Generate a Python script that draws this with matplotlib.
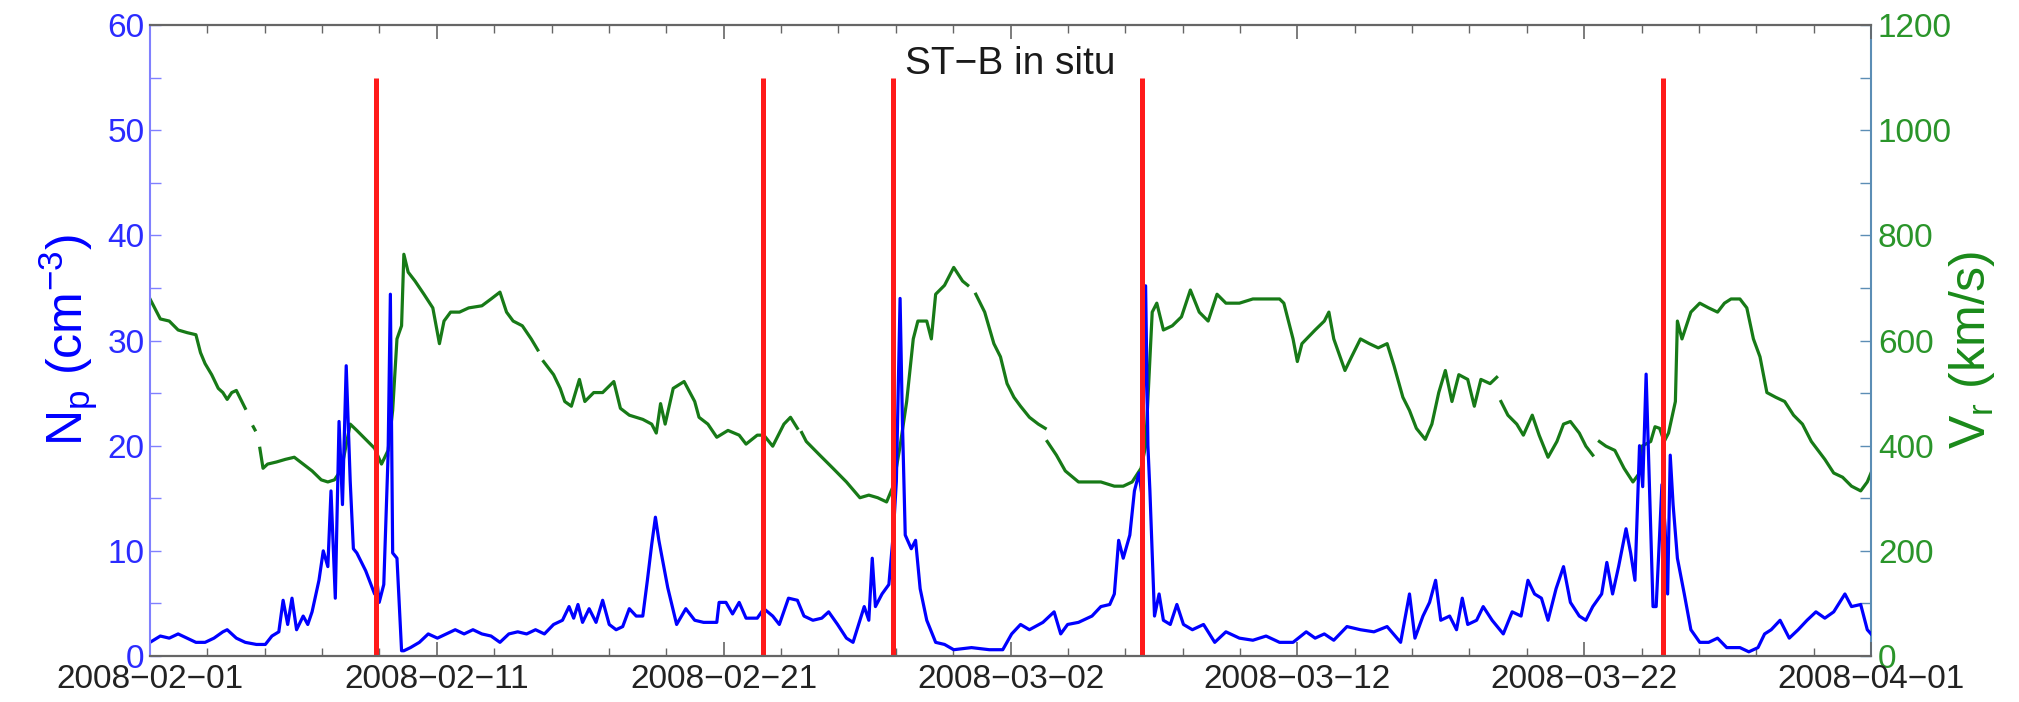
import numpy as np
import matplotlib.pyplot as plt

plt.rcParams['font.family'] = ['Liberation Sans', 'DejaVu Sans']
plt.rcParams['mathtext.fontset'] = 'custom'
plt.rcParams['mathtext.rm'] = 'Liberation Sans'
plt.rcParams['mathtext.it'] = 'Liberation Sans:italic'

start = np.datetime64('2008-02-01T00:00')

# proton density, days since 2008-02-01
np_days = [0.00, 0.36, 0.67, 0.98, 1.29, 1.60, 1.92, 2.23, 2.54, 2.69, 3.01, 3.32, 3.71, 4.02,
           4.25, 4.49, 4.64, 4.80, 4.95, 5.11, 5.34, 5.50, 5.65, 5.89, 6.04, 6.20, 6.31, 6.46,
           6.59, 6.71, 6.84, 6.98, 7.09, 7.21, 7.52, 7.83, 7.91, 7.99, 8.15, 8.30, 8.38, 8.46,
           8.61, 8.77, 8.85, 9.08, 9.39, 9.70, 10.02, 10.33, 10.64, 10.95, 11.26, 11.57, 11.89,
           12.20, 12.51, 12.82, 13.13, 13.44, 13.75, 14.07, 14.38, 14.61, 14.77, 14.92, 15.08,
           15.31, 15.55, 15.78, 16.01, 16.25, 16.48, 16.71, 16.95, 17.18, 17.34, 17.49, 17.62,
           17.74, 18.05, 18.36, 18.68, 18.99, 19.30, 19.76, 19.84, 20.08, 20.31, 20.54, 20.78,
           21.17, 21.40, 21.71, 21.94, 22.26, 22.57, 22.80, 23.11, 23.42, 23.66, 23.97, 24.28,
           24.51, 24.75, 24.90, 25.06, 25.18, 25.29, 25.52, 25.76, 25.91, 26.02, 26.15, 26.23,
           26.33, 26.54, 26.69, 26.85, 27.08, 27.39, 27.70, 28.02, 28.64, 29.26, 29.73, 30.04,
           30.35, 30.66, 31.13, 31.52, 31.75, 31.99, 32.37, 32.84, 33.15, 33.46, 33.62, 33.77,
           33.93, 34.16, 34.32, 34.48, 34.58, 34.71, 34.79, 34.86, 35.02, 35.18, 35.33, 35.57,
           35.80, 36.03, 36.34, 36.73, 37.12, 37.51, 37.98, 38.45, 38.91, 39.38, 39.85, 40.31,
           40.62, 40.94, 41.27, 41.73, 42.20, 42.67, 43.13, 43.60, 43.91, 44.10, 44.38, 44.61,
           44.82, 45.00, 45.31, 45.55, 45.75, 45.94, 46.25, 46.48, 46.79, 47.18, 47.49, 47.80,
           48.04, 48.27, 48.51, 48.74, 49.02, 49.28, 49.52, 49.83, 50.06, 50.30, 50.61, 50.79,
           50.99, 51.20, 51.46, 51.62, 51.77, 51.93, 52.04, 52.16, 52.27, 52.40, 52.51, 52.63,
           52.71, 52.82, 52.91, 53.00, 53.10, 53.25, 53.49, 53.72, 54.03, 54.34, 54.65, 54.97,
           55.43, 55.74, 56.06, 56.29, 56.52, 56.83, 57.15, 57.46, 57.77, 58.08, 58.39, 58.70,
           59.09, 59.32, 59.64, 59.87, 60.00]
np_vals = [1.3, 1.9, 1.7, 2.1, 1.7, 1.3, 1.3, 1.7, 2.3, 2.5, 1.7, 1.3, 1.1, 1.1,
           1.9, 2.3, 5.3, 3.0, 5.5, 2.5, 3.8, 3.0, 4.2, 7.2, 10.0, 8.5, 15.7, 5.5,
           22.3, 14.4, 27.6, 16.6, 10.2, 9.8, 8.1, 5.9, 7.2, 5.1, 6.8, 19.1, 34.4, 9.8,
           9.3, 0.5, 0.5, 0.8, 1.3, 2.1, 1.7, 2.1, 2.5, 2.1, 2.5, 2.1, 1.9,
           1.3, 2.1, 2.3, 2.1, 2.5, 2.1, 3.0, 3.4, 4.7, 3.6, 4.9, 3.2,
           4.5, 3.2, 5.3, 3.0, 2.5, 2.8, 4.5, 3.8, 3.8, 7.2, 10.6, 13.2,
           11.0, 6.5, 3.0, 4.5, 3.4, 3.2, 3.2, 5.1, 5.1, 4.0, 5.1, 3.6,
           3.6, 4.5, 3.8, 3.0, 5.5, 5.3, 3.8, 3.4, 3.6, 4.2, 3.0, 1.7,
           1.3, 3.4, 4.7, 3.4, 9.3, 4.7, 5.9, 6.8, 11.5, 16.6, 34.0, 22.5,
           11.5, 10.2, 11.0, 6.4, 3.4, 1.3, 1.1, 0.6, 0.8, 0.6, 0.6, 2.1,
           3.0, 2.5, 3.2, 4.2, 2.1, 3.0, 3.2, 3.8, 4.7, 4.9, 5.9, 11.0,
           9.3, 11.5, 15.7, 17.4, 15.3, 35.2, 20.0, 15.7, 3.8, 5.9, 3.4, 3.0,
           4.9, 3.0, 2.5, 3.0, 1.3, 2.3, 1.7, 1.5, 1.9, 1.3, 1.3, 2.3,
           1.7, 2.1, 1.5, 2.8, 2.5, 2.3, 2.8, 1.3, 5.9, 1.7, 3.8, 5.1,
           7.2, 3.4, 3.8, 2.5, 5.5, 3.0, 3.4, 4.7, 3.4, 2.1, 4.2, 3.8,
           7.2, 5.9, 5.5, 3.4, 6.4, 8.5, 5.1, 3.8, 3.4, 4.7, 5.9, 8.9,
           5.9, 8.5, 12.1, 9.8, 7.2, 20.0, 16.1, 26.8, 16.6, 4.7, 4.7, 11.5,
           16.3, 12.3, 5.9, 19.1, 14.4, 9.3, 5.9, 2.5, 1.3, 1.3, 1.7, 0.8,
           0.8, 0.4, 0.8, 2.1, 2.5, 3.4, 1.7, 2.5, 3.4, 4.2, 3.6, 4.2,
           5.9, 4.7, 4.9, 2.5, 2.1]

# radial speed (km/s), nan marks data gaps
vr_days = [0.00, 0.36, 0.67, 0.98, 1.29, 1.60, 1.76, 1.92, 2.15, 2.38, 2.54, 2.69, 2.85, 3.01,
           3.24, 3.32, 3.47, 3.60, 3.66, 3.74, 3.83, 3.94, 4.10, 4.41, 4.72, 5.03, 5.34, 5.65,
           5.97, 6.20, 6.43, 6.59, 6.74, 6.98, 7.21, 7.52, 7.83, 8.07, 8.30, 8.46, 8.61, 8.77,
           8.85, 9.00, 9.24, 9.55, 9.86, 10.09, 10.25, 10.48, 10.79, 11.11, 11.57, 11.89, 12.20,
           12.43, 12.66, 12.98, 13.29, 13.52, 13.62, 13.72, 14.07, 14.30, 14.46, 14.69, 14.97,
           15.16, 15.47, 15.78, 16.17, 16.40, 16.71, 17.18, 17.49, 17.65, 17.80, 17.96, 18.24,
           18.62, 18.99, 19.14, 19.45, 19.76, 20.15, 20.54, 20.78, 21.17, 21.40, 21.71, 22.10,
           22.33, 22.57, 22.65, 22.72, 22.88, 23.35, 23.81, 24.28, 24.75, 25.06, 25.37, 25.68,
           25.91, 26.15, 26.38, 26.61, 26.77, 27.08, 27.24, 27.39, 27.70, 28.02, 28.33, 28.51,
           28.65, 28.79, 29.10, 29.42, 29.65, 29.88, 30.12, 30.35, 30.66, 30.97, 31.21, 31.245,
           31.28, 31.60, 31.91, 32.37, 32.84, 33.15, 33.62, 33.93, 34.24, 34.55, 34.71, 34.94,
           35.10, 35.33, 35.64, 35.96, 36.27, 36.58, 36.89, 37.20, 37.51, 37.98, 38.45, 38.91,
           39.38, 39.53, 39.85, 40.00, 40.16, 40.62, 40.94, 41.10, 41.27, 41.66, 41.89, 42.20,
           42.51, 42.82, 43.13, 43.37, 43.68, 43.91, 44.15, 44.46, 44.69, 44.93, 45.16, 45.39,
           45.63, 45.94, 46.17, 46.40, 46.72, 46.95, 47.02, 47.10, 47.34, 47.65, 47.88, 48.19,
           48.43, 48.74, 49.05, 49.28, 49.52, 49.83, 50.06, 50.30, 50.42, 50.53, 50.76, 51.07,
           51.39, 51.70, 51.93, 52.01, 52.32, 52.47, 52.63, 52.79, 52.94, 53.18, 53.25, 53.41,
           53.72, 54.03, 54.34, 54.65, 54.89, 55.12, 55.43, 55.67, 55.90, 56.13, 56.37, 56.68,
           56.99, 57.30, 57.61, 57.92, 58.39, 58.70, 59.01, 59.32, 59.64, 59.87, 60.00]
vr_vals = [679, 641, 637, 620, 615, 611, 577, 556, 535, 509, 501, 488, 501, 505,
           480, 471, np.nan, 436, 430, np.nan, 395, 357, 365, 369, 374, 378, 365, 352,
           335, 331, 335, 348, 374, 441, 429, 412, 395, 365, 391, 467, 603, 628,
           764, 730, 713, 688, 662, 594, 637, 654, 654, 662, 666, 679, 692,
           654, 637, 628, 603, 582, np.nan, 560, 535, 509, 484, 475, 526,
           484, 501, 501, 522, 471, 458, 450, 441, 424, 480, 441, 509,
           522, 484, 454, 441, 416, 429, 420, 403, 420, 420, 399, 441,
           454, 433, np.nan, 425, 408, 382, 357, 331, 301, 306, 301, 293,
           323, 399, 484, 603, 637, 637, 603, 688, 705, 739, 713, 705,
           np.nan, 688, 654, 594, 569, 518, 492, 475, 454, 441, 433, np.nan,
           408, 382, 352, 331, 331, 331, 323, 323, 331, 357, 399, 654,
           671, 620, 628, 645, 696, 654, 637, 688, 671, 671, 679, 679,
           679, 671, 603, 560, 594, 620, 637, 654, 603, 543, 569, 603,
           594, 586, 594, 552, 492, 467, 433, 412, 441, 501, 543, 484,
           535, 526, 475, 526, 518, 530, np.nan, 484, 458, 441, 420, 458,
           420, 378, 408, 441, 446, 424, 399, 382, np.nan, 408, 399, 391,
           357, 331, 348, 399, 408, 436, 433, 408, 424, 484, 637, 603,
           654, 671, 662, 654, 671, 679, 679, 662, 603, 569, 501, 492,
           484, 458, 441, 408, 374, 348, 340, 323, 314, 331, 348]

event_days = [7.88, 21.36, 25.92, 34.60, 52.75]
xtick_labels = ['2008-02-01', '2008-02-11', '2008-02-21', '2008-03-02',
                '2008-03-12', '2008-03-22', '2008-04-01']


def to_dates(days):
    return start + (np.asarray(days) * 1440).round().astype('timedelta64[m]')


fig = plt.figure(figsize=(20.19, 7.02), dpi=100)
ax = fig.add_axes([0.0743, 0.0655, 0.8524, 0.8989])
ax2 = ax.twinx()
ax.set_zorder(ax2.get_zorder() + 1)
ax.patch.set_visible(False)

ax2.plot(to_dates(vr_days), vr_vals, color='#177a17', lw=2.3)
ax.plot(to_dates(np_days), np_vals, color='#0000ff', lw=2.3)
ax.vlines(to_dates(event_days), 0, 55, color='#ff1a1a', lw=3.6)

ax.set_xlim(to_dates([0])[0], to_dates([60])[0])
ax.set_ylim(0, 60)
ax2.set_ylim(0, 1200)

ax.set_xticks(np.array(xtick_labels, dtype='datetime64[m]'),
              labels=[s.replace('-', '\u2212') for s in xtick_labels])
ax.set_xticks(to_dates(np.arange(0, 61, 2)), minor=True)
ax.set_yticks(np.arange(0, 61, 10))
ax.set_yticks(np.arange(0, 61, 5), minor=True)
ax2.set_yticks(np.arange(0, 1201, 200))
ax2.set_yticks(np.arange(0, 1201, 100), minor=True)

ax.tick_params(axis='x', which='both', direction='in', top=True, bottom=True,
               color='#666666', labelcolor='#222222', labelsize=24, pad=6)
ax.tick_params(axis='x', which='major', length=10, width=1.2)
ax.tick_params(axis='x', which='minor', length=6, width=1.0)
ax.tick_params(axis='y', which='both', direction='in', left=True, right=False,
               color='#8080ff', labelcolor='#2b2bff', labelsize=24, length=8, width=1.0, pad=4)
ax2.tick_params(axis='y', which='both', direction='in', right=True, left=False,
                color='#5b8db5', labelcolor='#2a952a', labelsize=24, length=8, width=1.0, pad=5)

for side in ['top', 'bottom']:
    ax.spines[side].set_color('#666666')
    ax.spines[side].set_linewidth(1.6)
ax.spines['left'].set_color('#8080ff')
ax.spines['left'].set_linewidth(1.5)
ax.spines['right'].set_visible(False)
for side in ['left', 'top', 'bottom']:
    ax2.spines[side].set_visible(False)
ax2.spines['right'].set_color('#5b8db5')
ax2.spines['right'].set_linewidth(1.5)

ax.set_ylabel(r'N$_\mathregular{p}$ (cm$^\mathregular{-3}$)', fontsize=36, color='#0000ff')
ax.yaxis.set_label_coords(-0.029, 0.5)
ax2.set_ylabel(r'V$_\mathregular{r}$ (km/s)', fontsize=36, color='#1a8a1a')
ax2.yaxis.set_label_coords(1.044, 0.485)

ax.text(0.5, 0.938, 'ST\u2212B in situ', transform=ax.transAxes, ha='center', va='center',
        fontsize=28, color='#1a1a1a')

fig.savefig('out.png', dpi=100)
